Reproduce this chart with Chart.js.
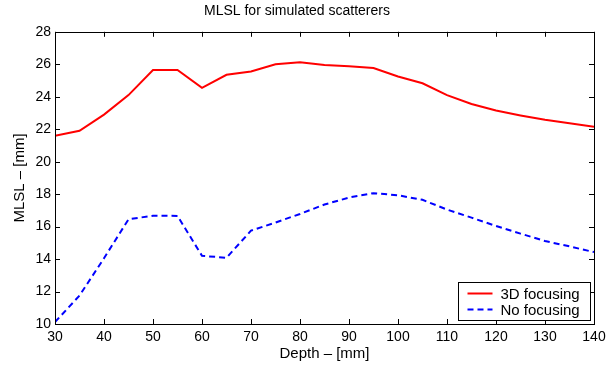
<!DOCTYPE html>
<html>
<head>
<meta charset="utf-8">
<title>MLSL for simulated scatterers</title>
<script src="https://cdn.jsdelivr.net/npm/chart.js@4"></script>
<style>
    html, body { margin: 0; padding: 0; background: #fff; }
    #wrap { width: 616px; height: 367px; }
</style>
</head>
<body>
<div id="wrap"><canvas id="mlslChart" width="616" height="367"></canvas></div>
<script>
// ======================================================
// DATA
// ======================================================
const depths = [30, 35, 40, 45, 50, 55, 60, 65, 70, 75, 80, 85, 90, 95, 100, 105, 110, 115, 120, 125, 130, 135, 140];
const focused3D = [21.6, 21.9, 22.9, 24.1, 25.65, 25.65, 24.55, 25.35, 25.55, 26.0, 26.12, 25.95, 25.88, 25.77, 25.25, 24.83, 24.1, 23.55, 23.15, 22.85, 22.58, 22.36, 22.15];
const noFocusing = [10.12, 11.75, 14.05, 16.45, 16.67, 16.66, 14.2, 14.08, 15.75, 16.25, 16.78, 17.36, 17.79, 18.06, 17.93, 17.65, 17.05, 16.55, 16.04, 15.57, 15.11, 14.78, 14.43];
const xTicks = [30, 40, 50, 60, 70, 80, 90, 100, 110, 120, 130, 140];
const yTicks = [10, 12, 14, 16, 18, 20, 22, 24, 26, 28];

document.addEventListener('DOMContentLoaded', () => {

    const FONT = 'Liberation Sans, Arial, Helvetica, sans-serif';
    const toPoints = (values) => depths.map((d, i) => ({ x: d, y: values[i] }));

    // ======================================================
    // PLUGIN: matlab style box, inward ticks and legend
    // ======================================================
    const matlabFrame = {
        id: 'matlabFrame',
        afterDatasetsDraw(chart) {
            const { ctx, chartArea: a, scales: { x, y } } = chart;
            const tick = 5;
            ctx.save();
            ctx.strokeStyle = '#000';
            ctx.lineWidth = 1;
            ctx.setLineDash([]);
            ctx.beginPath();
            xTicks.forEach(v => {
                const px = Math.round(x.getPixelForValue(v)) + 0.5;
                ctx.moveTo(px, a.bottom); ctx.lineTo(px, a.bottom - tick);
                ctx.moveTo(px, a.top); ctx.lineTo(px, a.top + tick);
            });
            yTicks.forEach(v => {
                const py = Math.round(y.getPixelForValue(v)) + 0.5;
                ctx.moveTo(a.left, py); ctx.lineTo(a.left + tick, py);
                ctx.moveTo(a.right, py); ctx.lineTo(a.right - tick, py);
            });
            ctx.stroke();
            ctx.strokeRect(Math.round(a.left) + 0.5, Math.round(a.top) + 0.5,
                Math.round(a.right - a.left), Math.round(a.bottom - a.top));

            // legend box in the lower right corner
            const w = 132, h = 38;
            const bx = Math.round(a.right - 4 - w) + 0.5;
            const by = Math.round(a.bottom - 4 - h) + 0.5;
            ctx.fillStyle = '#fff';
            ctx.fillRect(bx, by, w, h);
            ctx.strokeRect(bx, by, w, h);
            ctx.font = '15px ' + FONT;
            ctx.textBaseline = 'middle';
            ctx.textAlign = 'left';
            chart.data.datasets.forEach((ds, i) => {
                const ly = by + 11 + i * 16;
                ctx.strokeStyle = ds.borderColor;
                ctx.lineWidth = ds.borderWidth;
                ctx.setLineDash(ds.borderDash || []);
                ctx.beginPath();
                ctx.moveTo(bx + 9, ly);
                ctx.lineTo(bx + 34, ly);
                ctx.stroke();
                ctx.fillStyle = '#000';
                ctx.fillText(ds.label, bx + 42, ly + 1);
            });
            ctx.restore();
        }
    };

    // ======================================================
    // CHART
    // ======================================================
    const ctx = document.getElementById('mlslChart').getContext('2d');
    new Chart(ctx, {
        type: 'line',
        data: {
            datasets: [{
                label: '3D focusing',
                data: toPoints(focused3D),
                borderColor: '#ff0000',
                borderWidth: 2,
                pointRadius: 0,
                tension: 0,
                fill: false
            }, {
                label: 'No focusing',
                data: toPoints(noFocusing),
                borderColor: '#0000ff',
                borderWidth: 2,
                borderDash: [6, 4],
                pointRadius: 0,
                tension: 0,
                fill: false
            }]
        },
        options: {
            responsive: false,
            animation: false,
            layout: { padding: { left: 0, right: 22, top: 0, bottom: 0 } },
            plugins: {
                legend: { display: false },
                tooltip: { enabled: false },
                title: {
                    display: true,
                    text: 'MLSL for simulated scatterers',
                    color: '#000',
                    font: { family: FONT, size: 14, weight: 'normal' },
                    padding: { top: 3, bottom: 12 }
                }
            },
            scales: {
                x: {
                    type: 'linear',
                    min: 30,
                    max: 140,
                    afterFit: (s) => { s.height = 43; },
                    afterBuildTicks: (s) => { s.ticks = xTicks.map(v => ({ value: v })); },
                    grid: { display: false, drawTicks: false },
                    border: { display: false },
                    ticks: { color: '#000', padding: 5, maxRotation: 0, autoSkip: false, font: { family: FONT, size: 14 } },
                    title: { display: true, text: 'Depth – [mm]', color: '#000', padding: { top: 0, bottom: 4 }, font: { family: FONT, size: 15 } }
                },
                y: {
                    min: 10,
                    max: 28,
                    afterFit: (s) => { s.width = 55; },
                    afterBuildTicks: (s) => { s.ticks = yTicks.map(v => ({ value: v })); },
                    grid: { display: false, drawTicks: false },
                    border: { display: false },
                    ticks: { color: '#000', padding: 4, autoSkip: false, font: { family: FONT, size: 14 } },
                    title: { display: true, text: 'MLSL – [mm]', color: '#000', padding: { top: 11, bottom: 0 }, font: { family: FONT, size: 15 } }
                }
            }
        },
        plugins: [matlabFrame]
    });
});
</script>
</body>
</html>
